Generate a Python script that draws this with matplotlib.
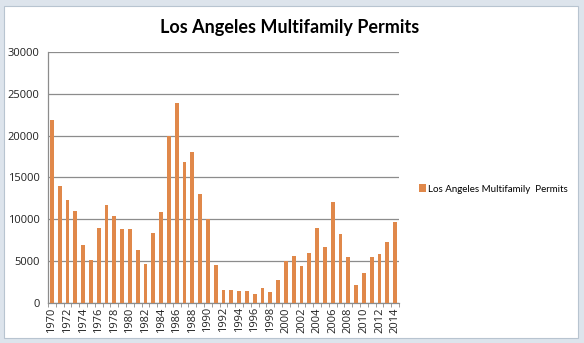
import matplotlib
matplotlib.use('Agg')
import matplotlib.pyplot as plt
import numpy as np
from matplotlib.patches import Rectangle

years = list(range(1970, 2015))
permits = [21900, 14000, 12300, 11000, 6900, 5100, 9000, 11700, 10400, 8800,
           8800, 6300, 4700, 8400, 10900, 20000, 23900, 16900, 18100, 13000,
           10000, 4600, 1500, 1600, 1400, 1400, 1100, 1800, 1300, 2700,
           5000, 5600, 4400, 5950, 8950, 6750, 12050, 8250, 5450, 2150,
           3550, 5450, 5850, 7250, 9650]
y_ticks = [0, 5000, 10000, 15000, 20000, 25000, 30000]
series_label = 'Los Angeles Multifamily  Permits'
title = 'Los Angeles Multifamily Permits'

bar_color = '#E0884A'
grid_color = '#8c8c8c'

fig = plt.figure(figsize=(5.84, 3.43), dpi=100)
fig.patch.set_facecolor('#dde4ec')

# white chart area with thin frame, behind the plot
bg = fig.add_axes([0, 0, 1, 1], zorder=-10)
bg.set_axis_off()
bg.add_patch(Rectangle((4 / 584, 5 / 343), 574 / 584, 332 / 343,
                       transform=bg.transAxes, facecolor='white',
                       edgecolor='#b8c4d0', linewidth=0.8))

ax = fig.add_axes([48 / 584, 1 - 303 / 343, 351 / 584, 251 / 343])
ax.set_facecolor('none')

x = np.arange(len(years))
ax.bar(x, permits, width=0.47, color=bar_color, zorder=3, label=series_label)

ax.set_xlim(-0.5, len(years) - 0.5)
ax.set_ylim(0, 30000)
ax.set_yticks(y_ticks)
ax.set_yticklabels([str(v) for v in y_ticks], fontsize=8, family='Open Sans',
                   color='#222222')
ax.yaxis.grid(True, color=grid_color, linewidth=0.9, zorder=0)
ax.set_axisbelow(True)
ax.tick_params(axis='y', length=0, pad=6)

label_pos = x[::2]
ax.set_xticks(label_pos)
ax.set_xticklabels([str(years[i]) for i in label_pos], rotation=90, fontsize=8,
                   family='Open Sans', color='#222222')
ax.set_xticks(np.arange(-0.5, len(years), 1), minor=True)
ax.tick_params(axis='x', which='major', length=0, pad=3)
ax.tick_params(axis='x', which='minor', length=3, color=grid_color)

for side in ['top', 'right']:
    ax.spines[side].set_visible(False)
for side in ['left', 'bottom']:
    ax.spines[side].set_color(grid_color)
    ax.spines[side].set_linewidth(0.9)

fig.text(290 / 584, 1 - 28 / 343, title, ha='center', va='center',
         fontsize=13, fontweight='bold', family='Lato')

fig.legend(loc='center left', bbox_to_anchor=(410 / 584, 1 - 189 / 343),
           frameon=False, handlelength=0.7, handleheight=0.9,
           handletextpad=0.2, prop={'family': 'Lato', 'size': 7})

fig.savefig('out.png', dpi=100, facecolor=fig.get_facecolor())
